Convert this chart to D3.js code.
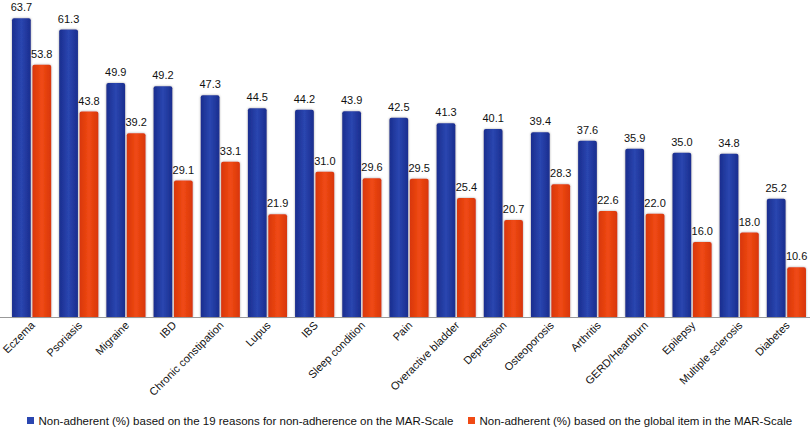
<!DOCTYPE html>
<html><head><meta charset="utf-8">
<script src="https://cdn.jsdelivr.net/npm/d3@7"></script>
<style>body{margin:0;background:#fff;} svg{display:block;font-family:"Liberation Sans",Arial,sans-serif;}</style>
</head><body><svg id="c" width="810" height="428"></svg>
<script>
const categories = ["Eczema","Psoriasis","Migraine","IBD","Chronic constipation","Lupus","IBS","Sleep condition","Pain","Overactive bladder","Depression","Osteoporosis","Arthritis","GERD/Heartburn","Epilepsy","Multiple sclerosis","Diabetes"];
const reasons19 = [63.7,61.3,49.9,49.2,47.3,44.5,44.2,43.9,42.5,41.3,40.1,39.4,37.6,35.9,35.0,34.8,25.2];
const globalItem = [53.8,43.8,39.2,29.1,33.1,21.9,31.0,29.6,29.5,25.4,20.7,28.3,22.6,22.0,16.0,18.0,10.6];
const seriesNames = ["Non-adherent (%) based on the 19 reasons for non-adherence on the MAR-Scale","Non-adherent (%) based on the global item in the MAR-Scale"];
const seriesKeys = ["a","b"];

const svg = d3.select("#c");
const defs = svg.append("defs");
const colors = {a:["#2a46b0","#1a2d8e"], b:["#f04a14","#d8360a"]};
seriesKeys.forEach(k=>{
  const g = defs.append("linearGradient").attr("id","g"+k).attr("x1",0).attr("x2",1).attr("y1",0).attr("y2",0);
  g.append("stop").attr("offset","0%").attr("stop-color",colors[k][1]);
  g.append("stop").attr("offset","50%").attr("stop-color",colors[k][0]);
  g.append("stop").attr("offset","100%").attr("stop-color",colors[k][1]);
});
const f = defs.append("filter").attr("id","sh").attr("x","-30%").attr("y","-10%").attr("width","160%").attr("height","120%");
f.append("feDropShadow").attr("dx",0).attr("dy",0).attr("stdDeviation",1.2).attr("flood-color","#666").attr("flood-opacity",0.6);

const baseY = 317;
const y = d3.scaleLinear().domain([0,67.6]).range([baseY,0]);
const x = d3.scaleBand().domain(categories).range([4,814]).paddingInner(0.17).paddingOuter(0.17);
const xi = d3.scaleBand().domain(seriesKeys).range([0,x.bandwidth()]).paddingInner(0.08);

const data = categories.map((c,i)=>({c, a:reasons19[i], b:globalItem[i]}));

const groups = svg.append("g").selectAll("g").data(data).join("g")
  .attr("transform",d=>`translate(${x(d.c)},0)`);

groups.selectAll("path").data(d=>seriesKeys.map(k=>({k,v:d[k]}))).join("path")
  .attr("filter","url(#sh)")
  .attr("fill",d=>`url(#g${d.k})`)
  .attr("d",d=>{
    const x0 = xi(d.k), w = xi.bandwidth(), y0 = y(d.v), r = 2;
    return `M${x0},${baseY}V${y0+r}Q${x0},${y0} ${x0+r},${y0}H${x0+w-r}Q${x0+w},${y0} ${x0+w},${y0+r}V${baseY}Z`;
  });

groups.selectAll("text").data(d=>seriesKeys.map(k=>({k,v:d[k]}))).join("text")
  .attr("x",d=>xi(d.k)+xi.bandwidth()/2)
  .attr("y",d=>y(d.v)-7)
  .attr("text-anchor","middle")
  .attr("font-size",11)
  .attr("fill","#111")
  .text(d=>d.v.toFixed(1));

svg.append("line").attr("x1",0).attr("x2",810).attr("y1",baseY+0.5).attr("y2",baseY+0.5)
  .attr("stroke","#999").attr("stroke-width",1);

svg.append("g").selectAll("text").data(categories).join("text")
  .attr("transform",d=>`translate(${x(d)+x.bandwidth()/2+4},${baseY+9}) rotate(-45)`)
  .attr("text-anchor","end")
  .attr("font-size",11)
  .attr("fill","#111")
  .text(d=>d);

const legX = [27,468];
const leg = svg.append("g").selectAll("g").data(seriesKeys).join("g")
  .attr("transform",(d,i)=>`translate(${legX[i]},417)`);
leg.append("rect").attr("width",7).attr("height",7).attr("fill",d=>colors[d][0]);
leg.append("text").attr("x",11.5).attr("y",7.5).attr("font-size",11.5).attr("fill","#111")
  .text((d,i)=>seriesNames[i]);
</script></body></html>
